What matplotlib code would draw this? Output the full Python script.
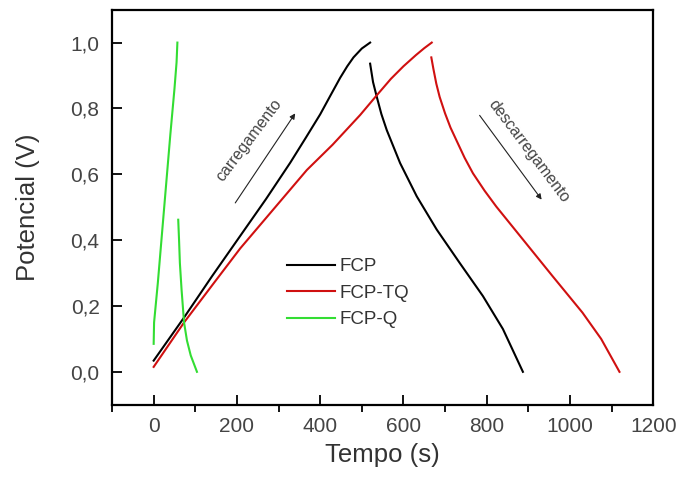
"""Curvas de carga/descarga galvanostática: FCP, FCP-TQ e FCP-Q."""

import matplotlib

matplotlib.use("Agg")
import matplotlib.pyplot as plt
from matplotlib.ticker import FuncFormatter, MultipleLocator

plt.rcParams["font.family"] = ["Liberation Sans", "DejaVu Sans"]

# FCP (preto)
fcp_carga_t = [0, 73, 140, 208, 270, 328, 365, 400, 425, 448, 465, 480, 500, 520]
fcp_carga_v = [0.034, 0.165, 0.29, 0.413, 0.525, 0.635, 0.71, 0.782, 0.84, 0.893, 0.928, 0.955, 0.982, 1.0]
fcp_desc_t = [520, 527, 536, 547, 560, 592, 632, 680, 735, 791, 839, 887]
fcp_desc_v = [0.936, 0.88, 0.835, 0.783, 0.734, 0.634, 0.533, 0.432, 0.331, 0.23, 0.13, 0.0]

# FCP-TQ (vermelho)
fcptq_carga_t = [0, 73, 140, 208, 290, 368, 430, 496, 536, 570, 600, 630, 650, 668]
fcptq_carga_v = [0.015, 0.15, 0.262, 0.375, 0.497, 0.613, 0.69, 0.78, 0.84, 0.89, 0.928, 0.962, 0.983, 1.0]
fcptq_desc_t = [667, 672, 679, 687, 700, 713, 727, 747, 767, 795, 823, 887, 958, 1030, 1075, 1119]
fcptq_desc_v = [0.955, 0.92, 0.875, 0.835, 0.785, 0.742, 0.704, 0.65, 0.603, 0.55, 0.502, 0.402, 0.291, 0.18, 0.10, 0.0]

# FCP-Q (verde)
fcpq_carga_t = [0, 1, 10, 20, 30, 40, 50, 55, 57]
fcpq_carga_v = [0.085, 0.15, 0.27, 0.42, 0.57, 0.72, 0.86, 0.94, 1.0]
fcpq_desc_t = [59, 61, 63, 67, 73, 80, 89, 104]
fcpq_desc_v = [0.462, 0.40, 0.33, 0.25, 0.15, 0.095, 0.05, 0.0]

cores = {"FCP": "black", "FCP-TQ": "#d01010", "FCP-Q": "#33dd33"}


def main() -> None:
    fig = plt.figure(figsize=(6.79, 4.83), dpi=100)
    ax = fig.add_axes([0.165, 0.162, 0.797, 0.818])

    lw = 1.5
    ax.plot(fcp_carga_t, fcp_carga_v, color=cores["FCP"], lw=lw, label="FCP")
    ax.plot(fcp_desc_t, fcp_desc_v, color=cores["FCP"], lw=lw)
    ax.plot(fcptq_carga_t, fcptq_carga_v, color=cores["FCP-TQ"], lw=lw, label="FCP-TQ")
    ax.plot(fcptq_desc_t, fcptq_desc_v, color=cores["FCP-TQ"], lw=lw)
    ax.plot(fcpq_carga_t, fcpq_carga_v, color=cores["FCP-Q"], lw=lw, label="FCP-Q")
    ax.plot(fcpq_desc_t, fcpq_desc_v, color=cores["FCP-Q"], lw=lw)

    ax.set_xlim(-100, 1200)
    ax.set_ylim(-0.1, 1.1)
    ax.xaxis.set_major_locator(MultipleLocator(200))
    ax.xaxis.set_minor_locator(MultipleLocator(100))
    ax.yaxis.set_major_locator(MultipleLocator(0.2))
    ax.yaxis.set_major_formatter(FuncFormatter(lambda v, _: f"{v:.1f}".replace(".", ",")))

    # maiores para dentro, menores (eixo x) para fora
    ax.tick_params(axis="both", which="major", direction="in", length=7, width=1.3,
                   labelsize=15, labelcolor="#444444", pad=9)
    ax.tick_params(axis="x", which="minor", direction="out", length=5, width=1.3)
    ax.tick_params(top=False, right=False)
    for s in ax.spines.values():
        s.set_linewidth(1.6)

    ax.set_xlabel("Tempo (s)", fontsize=18.5, color="#333333", labelpad=5)
    ax.set_ylabel("Potencial (V)", fontsize=18.5, color="#333333", labelpad=22)

    leg = ax.legend(loc="upper left", bbox_to_anchor=(0.31, 0.39), frameon=False,
                    fontsize=13.5, handlelength=2.55, handletextpad=0.25,
                    labelspacing=0.5, borderaxespad=0)
    for t in leg.get_texts():
        t.set_color("#333333")

    seta = dict(arrowstyle="-|>", lw=0.8, color="#222222", mutation_scale=8,
                shrinkA=0, shrinkB=0)
    ax.annotate("", xy=(340, 0.785), xytext=(196, 0.513), arrowprops=seta)
    ax.annotate("", xy=(932, 0.523), xytext=(783, 0.779), arrowprops=seta)
    ax.text(228, 0.704, "carregamento", rotation=53, rotation_mode="anchor",
            ha="center", va="center", fontsize=11.5, color="#444444")
    ax.text(900, 0.671, "descarregamento", rotation=-53, rotation_mode="anchor",
            ha="center", va="center", fontsize=11.5, color="#444444")

    fig.savefig("out.png", dpi=100)
    plt.close(fig)


if __name__ == "__main__":
    main()
